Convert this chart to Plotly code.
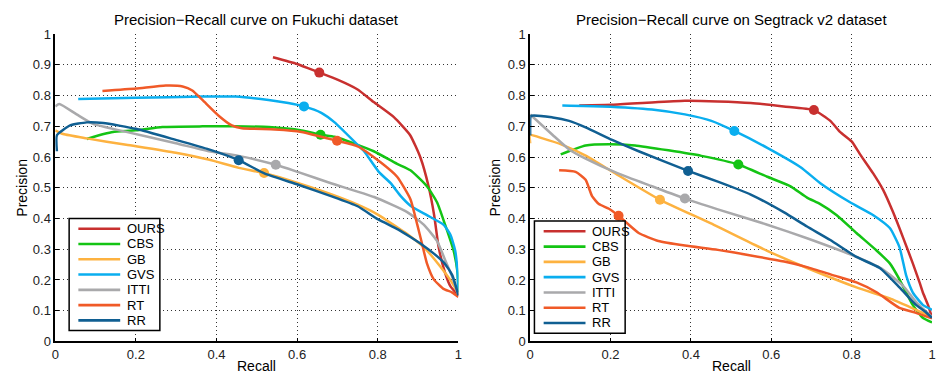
import plotly.graph_objects as go

W, H = 937, 385

methods = ["OURS", "CBS", "GB", "GVS", "ITTI", "RT", "RR"]
colors = ["#C8302F", "#14C414", "#FDB240", "#0AAEEF", "#A9A9AB", "#F05A28", "#105F92"]

# ---------------- Fukuchi dataset ----------------
fuk_ours_r = [0.54, 0.60, 0.655, 0.70, 0.75, 0.79, 0.84, 0.88, 0.906, 0.926, 0.94, 0.951, 0.967, 0.98, 1.0]
fuk_ours_p = [0.925, 0.903, 0.875, 0.852, 0.82, 0.779, 0.73, 0.672, 0.598, 0.505, 0.41, 0.307, 0.223, 0.18, 0.15]
fuk_cbs_r = [0.078, 0.12, 0.143, 0.2, 0.266, 0.365, 0.44, 0.53, 0.611, 0.658, 0.693, 0.75, 0.79, 0.848, 0.881,
             0.922, 0.947, 0.967, 0.988, 0.998, 1.0]
fuk_cbs_p = [0.659, 0.675, 0.682, 0.687, 0.698, 0.70, 0.70, 0.698, 0.687, 0.673, 0.666, 0.64, 0.619, 0.578, 0.557,
             0.505, 0.453, 0.38, 0.296, 0.223, 0.16]
fuk_gb_r = [0.0, 0.02, 0.078, 0.176, 0.299, 0.38, 0.455, 0.518, 0.603, 0.684, 0.75, 0.8, 0.85, 0.873, 0.914,
            0.955, 0.985, 1.0]
fuk_gb_p = [0.687, 0.675, 0.661, 0.64, 0.614, 0.592, 0.565, 0.548, 0.515, 0.479, 0.445, 0.413, 0.37, 0.35, 0.307,
            0.244, 0.19, 0.155]
fuk_gvs_r = [0.057, 0.2, 0.365, 0.447, 0.529, 0.578, 0.617, 0.66, 0.693, 0.75, 0.766, 0.803, 0.832, 0.857, 0.881,
             0.922, 0.963, 0.98, 0.992, 0.998, 1.0]
fuk_gvs_p = [0.789, 0.793, 0.797, 0.797, 0.786, 0.776, 0.765, 0.744, 0.713, 0.64, 0.619, 0.551, 0.515, 0.473, 0.442,
             0.411, 0.38, 0.348, 0.296, 0.223, 0.16]
fuk_itti_r = [0.0, 0.01, 0.053, 0.094, 0.176, 0.299, 0.381, 0.455, 0.547, 0.603, 0.684, 0.791, 0.873, 0.914, 0.947,
              0.967, 0.984, 1.0]
fuk_itti_p = [0.765, 0.773, 0.739, 0.708, 0.682, 0.645, 0.619, 0.604, 0.575, 0.551, 0.515, 0.47, 0.421, 0.38, 0.327,
              0.265, 0.213, 0.15]
fuk_rt_r = [0.117, 0.2, 0.274, 0.316, 0.34, 0.365, 0.406, 0.438, 0.463, 0.545, 0.611, 0.699, 0.75, 0.807, 0.848,
            0.881, 0.898, 0.91, 0.922, 0.939, 0.963, 0.984, 1.0]
fuk_rt_p = [0.815, 0.823, 0.833, 0.83, 0.817, 0.786, 0.734, 0.703, 0.694, 0.69, 0.682, 0.653, 0.635, 0.583, 0.536,
            0.463, 0.38, 0.317, 0.254, 0.202, 0.171, 0.16, 0.145]
fuk_rr_r = [0.004, 0.004, 0.037, 0.078, 0.119, 0.2, 0.299, 0.381, 0.455, 0.52, 0.603, 0.684, 0.75, 0.8, 0.85, 0.881,
            0.91, 0.94, 0.965, 0.985, 1.0]
fuk_rr_p = [0.619, 0.671, 0.703, 0.713, 0.711, 0.692, 0.656, 0.625, 0.59, 0.546, 0.51, 0.473, 0.44, 0.398, 0.365,
            0.34, 0.315, 0.285, 0.255, 0.215, 0.15]
fuk_marker_r = [0.655, 0.658, 0.518, 0.617, 0.547, 0.699, 0.455]
fuk_marker_p = [0.875, 0.673, 0.548, 0.765, 0.575, 0.653, 0.59]

# ---------------- Segtrack v2 dataset ----------------
seg_ours_r = [0.122, 0.204, 0.303, 0.385, 0.467, 0.549, 0.631, 0.706, 0.747, 0.771, 0.8, 0.821, 0.854, 0.878, 0.903,
              0.928, 0.952, 0.969, 0.977, 0.99, 1.0]
seg_ours_p = [0.768, 0.77, 0.778, 0.783, 0.781, 0.776, 0.765, 0.753, 0.718, 0.682, 0.651, 0.609, 0.546, 0.494, 0.421,
              0.338, 0.255, 0.192, 0.16, 0.119, 0.077]
seg_cbs_r = [0.076, 0.138, 0.196, 0.261, 0.344, 0.426, 0.518, 0.59, 0.648, 0.689, 0.722, 0.763, 0.812, 0.862, 0.895,
             0.919, 0.952, 0.977, 1.0]
seg_cbs_p = [0.609, 0.638, 0.642, 0.638, 0.622, 0.604, 0.576, 0.536, 0.505, 0.468, 0.447, 0.411, 0.353, 0.296, 0.254,
             0.202, 0.119, 0.077, 0.062]
seg_gb_r = [0.0, 0.0, 0.031, 0.08, 0.138, 0.22, 0.323, 0.45, 0.59, 0.689, 0.812, 0.895, 0.96, 1.0]
seg_gb_p = [0.645, 0.672, 0.661, 0.64, 0.605, 0.54, 0.461, 0.384, 0.295, 0.239, 0.176, 0.14, 0.103, 0.08]
seg_gvs_r = [0.08, 0.179, 0.303, 0.385, 0.451, 0.508, 0.59, 0.673, 0.722, 0.796, 0.854, 0.895, 0.919, 0.936, 0.952,
             0.977, 1.0]
seg_gvs_p = [0.768, 0.765, 0.755, 0.739, 0.718, 0.685, 0.63, 0.567, 0.515, 0.453, 0.411, 0.369, 0.307, 0.213, 0.16,
             0.119, 0.103]
seg_itti_r = [0.0, 0.056, 0.097, 0.138, 0.22, 0.303, 0.385, 0.467, 0.59, 0.689, 0.812, 0.878, 0.928, 0.96, 0.993, 1.0]
seg_itti_p = [0.739, 0.672, 0.625, 0.595, 0.546, 0.505, 0.465, 0.43, 0.38, 0.336, 0.275, 0.234, 0.181, 0.129, 0.088,
              0.08]
seg_rt_r = [0.072, 0.113, 0.138, 0.154, 0.171, 0.196, 0.22, 0.27, 0.319, 0.385, 0.467, 0.549, 0.632, 0.689, 0.755,
            0.812, 0.862, 0.919, 0.96, 1.0]
seg_rt_p = [0.557, 0.552, 0.526, 0.473, 0.447, 0.432, 0.409, 0.353, 0.327, 0.312, 0.298, 0.28, 0.26, 0.242, 0.215,
            0.192, 0.16, 0.109, 0.093, 0.075]
seg_rr_r = [0.0, 0.0, 0.002, 0.056, 0.097, 0.138, 0.204, 0.27, 0.393, 0.467, 0.549, 0.632, 0.689, 0.747, 0.812, 0.87,
            0.919, 0.96, 0.98, 1.0]
seg_rr_p = [0.67, 0.70, 0.734, 0.729, 0.718, 0.697, 0.656, 0.619, 0.555, 0.52, 0.478, 0.42, 0.374, 0.33, 0.275, 0.239,
            0.176, 0.119, 0.1, 0.077]
seg_marker_r = [0.706, 0.518, 0.323, 0.508, 0.385, 0.22, 0.393]
seg_marker_p = [0.753, 0.576, 0.461, 0.685, 0.465, 0.409, 0.555]

x_ticks = [0, 0.2, 0.4, 0.6, 0.8, 1]
x_ticktext = ["0", "0.2", "0.4", "0.6", "0.8", "1"]
y_ticks = [0, 0.1, 0.2, 0.3, 0.4, 0.5, 0.6, 0.7, 0.8, 0.9, 1]
y_ticktext = ["0", "0.1", "0.2", "0.3", "0.4", "0.5", "0.6", "0.7", "0.8", "0.9", "1"]

titles = ["Precision\u2212Recall curve on Fukuchi dataset", "Precision\u2212Recall curve on Segtrack v2 dataset"]

FONT = "Liberation Sans, Arial, Helvetica, sans-serif"

fuk_series = [(fuk_ours_r, fuk_ours_p), (fuk_cbs_r, fuk_cbs_p), (fuk_gb_r, fuk_gb_p), (fuk_gvs_r, fuk_gvs_p),
              (fuk_itti_r, fuk_itti_p), (fuk_rt_r, fuk_rt_p), (fuk_rr_r, fuk_rr_p)]
seg_series = [(seg_ours_r, seg_ours_p), (seg_cbs_r, seg_cbs_p), (seg_gb_r, seg_gb_p), (seg_gvs_r, seg_gvs_p),
              (seg_itti_r, seg_itti_p), (seg_rt_r, seg_rt_p), (seg_rr_r, seg_rr_p)]

fig = go.Figure()

for series, mr, mp, xa, ya in [(fuk_series, fuk_marker_r, fuk_marker_p, "x", "y"),
                               (seg_series, seg_marker_r, seg_marker_p, "x2", "y2")]:
    for i, (r, p) in enumerate(series):
        fig.add_trace(go.Scatter(x=r, y=p, mode="lines", name=methods[i], xaxis=xa, yaxis=ya,
                                 line=dict(color=colors[i], width=2.5, shape="spline", smoothing=0.5),
                                 showlegend=False, hoverinfo="skip"))
        fig.add_trace(go.Scatter(x=[mr[i]], y=[mp[i]], mode="markers", name=methods[i], xaxis=xa, yaxis=ya,
                                 marker=dict(color=colors[i], size=10, line=dict(width=0)),
                                 showlegend=False, hoverinfo="skip"))


def px2paper(px, py):
    return px / W, 1 - py / H


# axis geometry in pixels
left_x0, left_x1 = 51.7, 458.3
right_x0, right_x1 = 530.7, 936.0
top_y, bot_y = 28.3, 348.0

axis_common = dict(range=[0, 1], showgrid=True, griddash="1px,3px", gridcolor="#333333", gridwidth=1,
                   showline=True, linecolor="black", linewidth=1.5, ticks="inside", ticklen=4,
                   tickcolor="black", tickwidth=1, zeroline=False, mirror=False,
                   tickfont=dict(family=FONT, size=13, color="#222222"), fixedrange=True)

fig.update_layout(
    width=W, height=H, margin=dict(l=0, r=0, t=0, b=0),
    paper_bgcolor="white", plot_bgcolor="white", showlegend=False,
    xaxis=dict(domain=[left_x0 / W, left_x1 / W], anchor="y", tickvals=x_ticks, ticktext=x_ticktext, **axis_common),
    yaxis=dict(domain=[1 - bot_y / H, 1 - top_y / H], anchor="x", tickvals=y_ticks, ticktext=y_ticktext,
               **axis_common),
    xaxis2=dict(domain=[right_x0 / W, right_x1 / W], anchor="y2", tickvals=x_ticks, ticktext=x_ticktext,
                **axis_common),
    yaxis2=dict(domain=[1 - bot_y / H, 1 - top_y / H], anchor="x2", tickvals=y_ticks, ticktext=y_ticktext,
                **axis_common),
)

annotations = []
shapes = []
for k, (x0, x1, ylab_x, leg_x, leg_y) in enumerate([(left_x0, left_x1, 18, 65.7, 220.0),
                                                    (right_x0, right_x1, 495, 535.0, 222.7)]):
    cx = (x0 + x1) / 2
    tx, ty = px2paper(cx, 12.5)
    annotations.append(dict(text=titles[k], x=tx, y=ty, xref="paper", yref="paper", showarrow=False,
                            xanchor="center", yanchor="middle", font=dict(family=FONT, size=15, color="black")))
    rx, ry = px2paper(cx, 374)
    annotations.append(dict(text="Recall", x=rx, y=ry, xref="paper", yref="paper", showarrow=False,
                            xanchor="center", yanchor="middle", font=dict(family=FONT, size=14, color="black")))
    plx, ply = px2paper(ylab_x, (top_y + bot_y) / 2)
    annotations.append(dict(text="Precision", x=plx, y=ply, xref="paper", yref="paper", showarrow=False,
                            textangle=-90, xanchor="center", yanchor="middle",
                            font=dict(family=FONT, size=14, color="black")))
    # legend box
    bw, bh = 91.5, 116.7
    bx0, by0 = px2paper(leg_x, leg_y)
    bx1, by1 = px2paper(leg_x + bw, leg_y + bh)
    shapes.append(dict(type="rect", xref="paper", yref="paper", x0=bx0, x1=bx1, y0=by1, y1=by0,
                       line=dict(color="black", width=1.5), fillcolor="white", layer="above"))
    for i, m in enumerate(methods):
        rowy = leg_y + 10.7 + i * 15.9
        lx0, ly = px2paper(leg_x + 9.3, rowy)
        lx1, _ = px2paper(leg_x + 51.5, rowy)
        shapes.append(dict(type="line", xref="paper", yref="paper", x0=lx0, x1=lx1, y0=ly, y1=ly,
                           line=dict(color=colors[i], width=2.6), layer="above"))
        ax_, _ = px2paper(leg_x + 56.5, rowy)
        annotations.append(dict(text=m, x=ax_, y=ly, xref="paper", yref="paper", showarrow=False,
                                xanchor="left", yanchor="middle", font=dict(family=FONT, size=13, color="black")))

fig.update_layout(annotations=annotations, shapes=shapes)

fig.write_html("out.html")
